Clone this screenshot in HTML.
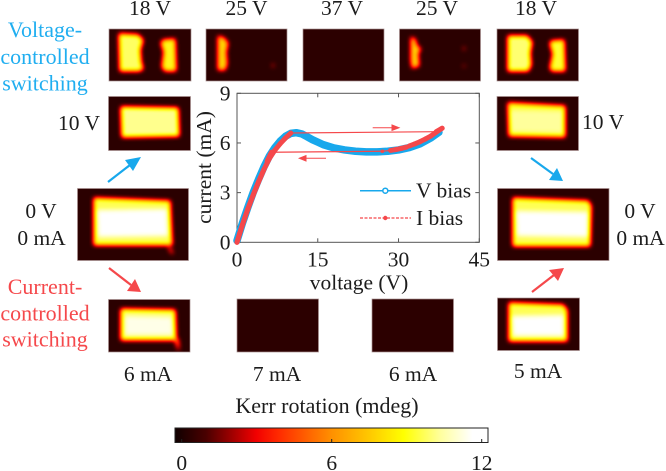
<!DOCTYPE html>
<html lang="en">
<head>
<meta charset="utf-8">
<title>Voltage and current controlled switching</title>
<style>
html,body{margin:0;padding:0;background:#fff;}
svg{display:block;}
text{font-family:"Liberation Serif",serif;fill:#1c1c1c;font-size:21.5px;}
.big{font-size:22px;}
.blue{fill:#20aef0;}
.red{fill:#f5484b;}
.m{text-anchor:middle;}
</style>
</head>
<body>
<svg id="fig" width="666" height="471" viewBox="0 0 666 471" xmlns="http://www.w3.org/2000/svg">
<defs>
<filter id="hot" x="0" y="0" width="1" height="1" filterUnits="objectBoundingBox" color-interpolation-filters="sRGB">
<feGaussianBlur stdDeviation="2.4"/>
<feComponentTransfer>
<feFuncR type="table" tableValues="0.17 0.62 1 1 1 1 1 1 1"/>
<feFuncG type="table" tableValues="0 0 0.08 0.38 0.62 0.85 1 1 1"/>
<feFuncB type="table" tableValues="0 0 0 0 0 0 0.15 0.6 1"/>
<feFuncA type="discrete" tableValues="1"/>
</feComponentTransfer>
</filter>
<linearGradient id="hotbar" x1="0" x2="1" y1="0" y2="0">
<stop offset="0" stop-color="#100000"/>
<stop offset="0.1" stop-color="#4a0000"/>
<stop offset="0.26" stop-color="#f20000"/>
<stop offset="0.33" stop-color="#ff2a00"/>
<stop offset="0.5" stop-color="#ff9000"/>
<stop offset="0.62" stop-color="#ffc800"/>
<stop offset="0.73" stop-color="#ffff00"/>
<stop offset="0.85" stop-color="#ffffa0"/>
<stop offset="0.95" stop-color="#ffffff"/>
<stop offset="1" stop-color="#ffffff"/>
</linearGradient>
</defs>
<rect width="666" height="471" fill="#fff"/>

<!-- Kerr images -->
<g>
<g filter="url(#hot)"><rect x="109" y="29" width="82" height="52" fill="#000"/>
<path d="M119 34 L138 35 L143 40 L140 50 L141 62 L143 69 L139 71 L120 71 Z" fill="#d0d0d0"/>
<path d="M163 40 L175 39 L176 71 L165 71 L162 67 L164 52 L161 43 Z" fill="#b8b8b8"/></g>
<rect x="109" y="29" width="82" height="52" fill="none" stroke="#a89090" stroke-width="0.7"/></g>
<g>
<g filter="url(#hot)"><rect x="206" y="29" width="81" height="52" fill="#000"/>
<path d="M218 36 L224 38 L228 43 L226 52 L227 64 L225 70 L218 70 Z" fill="#a0a0a0"/>
<rect x="272" y="64" width="2" height="3" fill="#404040"/></g>
<rect x="206" y="29" width="81" height="52" fill="none" stroke="#a89090" stroke-width="0.7"/></g>
<g>
<rect x="303" y="29" width="81" height="52" fill="#2c0000" stroke="#a89090" stroke-width="0.7"/></g>
<g>
<g filter="url(#hot)"><rect x="399.500" y="29" width="81" height="52" fill="#000"/>
<path d="M411 37 L415 39 L417 46 L421 49 L418 53 L419 66 L412 68 L411 60 Z" fill="#a0a0a0"/>
<rect x="463" y="47" width="2" height="3" fill="#404040"/><rect x="463" y="65" width="2" height="2" fill="#404040"/></g>
<rect x="399.500" y="29" width="81" height="52" fill="none" stroke="#a89090" stroke-width="0.7"/></g>
<g>
<g filter="url(#hot)"><rect x="497" y="29" width="81.500" height="52" fill="#000"/>
<path d="M508 36 L527 36 L532 42 L530 53 L531 65 L528 71 L508 71 Z" fill="#d4d4d4"/>
<path d="M551 41 L564 40 L565 71 L552 71 L550 68 L553 54 L550 44 Z" fill="#c4c4c4"/></g>
<rect x="497" y="29" width="81.500" height="52" fill="none" stroke="#a89090" stroke-width="0.7"/></g>
<g>
<g filter="url(#hot)"><rect x="108.500" y="96.500" width="82" height="54" fill="#000"/>
<path d="M121 107 L178 108 L179 136 L122 137 Z" fill="#dcdcdc"/></g>
<rect x="108.500" y="96.500" width="82" height="54" fill="none" stroke="#a89090" stroke-width="0.7"/></g>
<g>
<g filter="url(#hot)"><rect x="497" y="96.500" width="81.500" height="54" fill="#000"/>
<path d="M508 103 L565 106 L565 137 L509 136 Z" fill="#c4c4c4"/>
<path d="M510 110 L563 111 L563 133 L511 132 Z" fill="#e0e0e0"/></g>
<rect x="497" y="96.500" width="81.500" height="54" fill="none" stroke="#a89090" stroke-width="0.7"/></g>
<g>
<g filter="url(#hot)"><rect x="77.500" y="188.500" width="111" height="72" fill="#000"/>
<path d="M94 198 L170 201 L172 245 L94 245 Z" fill="#cccccc"/>
<path d="M97 210 L167 209 L168 236 L98 237 Z" fill="#ffffff"/>
<path d="M168 247 L170 247 L173 253 L172 254 Z" fill="#909090"/></g>
<rect x="77.500" y="188.500" width="111" height="72" fill="none" stroke="#a89090" stroke-width="0.7"/></g>
<g>
<g filter="url(#hot)"><rect x="497.500" y="188.500" width="111.500" height="72" fill="#000"/>
<path d="M513 198 L588 201 L591 206 L590 246 L513 246 Z" fill="#cccccc"/>
<path d="M516 211 L588 212 L588 237 L517 236 Z" fill="#ffffff"/></g>
<rect x="497.500" y="188.500" width="111.500" height="72" fill="none" stroke="#a89090" stroke-width="0.7"/></g>
<g>
<g filter="url(#hot)"><rect x="108.500" y="299.500" width="81.500" height="52.500" fill="#000"/>
<path d="M121 309 L175 310 L176 340 L121 340 Z" fill="#d0d0d0"/>
<path d="M125 316 L172 317 L173 335 L125 335 Z" fill="#f8f8f8"/>
<path d="M175 339 L178 339 L179 349 L178 349 Z" fill="#b0b0b0"/></g>
<rect x="108.500" y="299.500" width="81.500" height="52.500" fill="none" stroke="#a89090" stroke-width="0.7"/></g>
<g>
<rect x="237" y="299" width="81.500" height="53" fill="#2c0000" stroke="#a89090" stroke-width="0.7"/></g>
<g>
<rect x="372" y="299" width="81.500" height="53" fill="#2c0000" stroke="#a89090" stroke-width="0.7"/></g>
<g>
<g filter="url(#hot)"><rect x="497.500" y="298" width="82" height="52.500" fill="#000"/>
<path d="M509 303 L563 305 L567 310 L567 341 L509 341 Z" fill="#cccccc"/>
<path d="M512 316 L564 315 L564 336 L513 336 Z" fill="#ffffff"/></g>
<rect x="497.500" y="298" width="82" height="52.500" fill="none" stroke="#a89090" stroke-width="0.7"/></g>

<!-- Image labels -->
<text class="m" x="150" y="15">18 V</text>
<text class="m" x="246.500" y="15">25 V</text>
<text class="m" x="342" y="15">37 V</text>
<text class="m" x="437" y="15">25 V</text>
<text class="m" x="536" y="15">18 V</text>
<text class="m" x="79" y="130">10 V</text>
<text class="m" x="603" y="129">10 V</text>
<text class="m" x="41" y="218">0 V</text>
<text class="m" x="41.500" y="245">0 mA</text>
<text class="m" x="640" y="218">0 V</text>
<text class="m" x="640.500" y="245">0 mA</text>
<text class="m" x="148" y="381">6 mA</text>
<text class="m" x="277" y="381">7 mA</text>
<text class="m" x="413" y="381">6 mA</text>
<text class="m" x="538" y="378">5 mA</text>

<g>
<text class="big blue m" x="45" y="37">Voltage-</text>
<text class="big blue m" x="45" y="64">controlled</text>
<text class="big blue m" x="45" y="90.500">switching</text>
</g>
<g>
<text class="big red m" x="45" y="294">Current-</text>
<text class="big red m" x="45" y="320.500">controlled</text>
<text class="big red m" x="45" y="346.500">switching</text>
</g>

<!-- Flow arrows -->
<g><line x1="108" y1="182" x2="130" y2="165" stroke="#18a8ec" stroke-width="2.200"/><polygon points="141,157 133,171 125,160" fill="#18a8ec"/></g>
<g><line x1="531" y1="158" x2="553" y2="174" stroke="#18a8ec" stroke-width="2.200"/><polygon points="563,181 549,180 557,168" fill="#18a8ec"/></g>
<g><line x1="109" y1="268" x2="131" y2="285" stroke="#f5484b" stroke-width="2.200"/><polygon points="141,292 127,291 135,279" fill="#f5484b"/></g>
<g><line x1="532" y1="292" x2="554" y2="275" stroke="#f5484b" stroke-width="2.200"/><polygon points="564,268 558,281 549,270" fill="#f5484b"/></g>

<!-- Colorbar -->
<g>
<rect x="175" y="428" width="313" height="14.500" fill="url(#hotbar)" stroke="#222" stroke-width="1"/>
</g>
<text class="m" x="327" y="413" style="font-size:22px">Kerr rotation (mdeg)</text>
<g id="colorbar-axis"></g>

<g id="chart"></g>
</svg>

<script>
var xTicks = [0, 15, 30, 45];
var yTicks = [0, 3, 6, 9];
var colorTicks = [0, 6, 12];
var vBiasVoltage = [0, 1, 2, 3, 4, 5, 6, 7, 8, 9, 10, 11, 12, 13, 14, 15, 16, 18, 20, 22, 24, 26, 28, 30, 32, 34, 36, 37.5];
var vBiasCurrent = [0.1, 1.15, 2.1, 3.0, 3.8, 4.55, 5.2, 5.7, 6.1, 6.4, 6.58, 6.62, 6.55, 6.38, 6.2, 6.05, 5.9, 5.7, 5.58, 5.5, 5.46, 5.46, 5.5, 5.58, 5.72, 5.95, 6.3, 6.65];
var iBiasVoltage = [0, 0.5, 1, 2, 3, 4, 5, 6, 7, 8, 9, 10, 37, 38.1, 37, 36, 35, 34, 33, 32, 31.5, 30.5, 29.5, 28.5, 27, 6.4, 5.6, 5, 4, 3, 2, 1, 0];
var iBiasCurrent = [0, 0.55, 1.05, 2.0, 2.85, 3.65, 4.4, 5.05, 5.55, 5.95, 6.3, 6.6, 6.68, 6.89, 6.65, 6.42, 6.24, 6.08, 5.94, 5.82, 5.75, 5.67, 5.6, 5.55, 5.5, 5.44, 4.9, 4.4, 3.65, 2.85, 2.0, 1.05, 0];

var NS = 'http://www.w3.org/2000/svg';
var chart = document.getElementById('chart');
var cbAxis = document.getElementById('colorbar-axis');
var L = 237, R = 479.3, T = 93.3, B = 242.3;
function sx(v) { return L + (v / 45) * (R - L); }
function sy(v) { return B - (v / 9) * (B - T); }
function cx(v) { return 181.7 + (v / 12) * 300; }
function mk(parent, tag, attrs) {
  var el = document.createElementNS(NS, tag);
  for (var k in attrs) el.setAttribute(k, attrs[k]);
  parent.appendChild(el);
  return el;
}

var frame = mk(chart, 'rect', {x: L, y: T, width: R - L, height: B - T, fill: 'none', stroke: '#555', 'stroke-width': 1});



xTicks.forEach(function (t) {
  var a = mk(chart, 'line', {x1: sx(t), x2: sx(t), y1: B, y2: B - 4, stroke: '#555', 'stroke-width': 1});
  
  
  var b = mk(chart, 'line', {x1: sx(t), x2: sx(t), y1: T, y2: T + 4, stroke: '#555', 'stroke-width': 1});
  
  
  var l = mk(chart, 'text', {x: sx(t), y: 266.700, 'text-anchor': 'middle'});
  l.textContent = t;
  
  
});
yTicks.forEach(function (t) {
  var a = mk(chart, 'line', {x1: L, x2: L + 4, y1: sy(t), y2: sy(t), stroke: '#555', 'stroke-width': 1});
  
  
  var b = mk(chart, 'line', {x1: R, x2: R - 4, y1: sy(t), y2: sy(t), stroke: '#555', 'stroke-width': 1});
  
  
  var l = mk(chart, 'text', {x: 230.500, y: sy(t) + 7, 'text-anchor': 'end'});
  l.textContent = t;
  
  
});

var xTitle = mk(chart, 'text', {x: 359, y: 289.500, 'text-anchor': 'middle'});
xTitle.textContent = 'voltage (V)';


var yTitle = mk(chart, 'text', {transform: 'translate(211,167.500) rotate(-90)', 'text-anchor': 'middle'});
yTitle.textContent = 'current (mA)';



var d = vBiasVoltage.map(function (v, i) {
  return (i ? 'L' : 'M') + sx(v).toFixed(2) + ' ' + sy(vBiasCurrent[i]).toFixed(2);
}).join(' ');
var vLine = mk(chart, 'path', {d: d, fill: 'none', stroke: '#18a8ec', 'stroke-width': 7.500, 'stroke-linejoin': 'round', 'stroke-linecap': 'round'});



for (var i = 1; i < iBiasVoltage.length; i++) {
  var gap = Math.abs(iBiasVoltage[i] - iBiasVoltage[i - 1]);
  var seg = mk(chart, 'line', {
    x1: sx(iBiasVoltage[i - 1]), y1: sy(iBiasCurrent[i - 1]),
    x2: sx(iBiasVoltage[i]), y2: sy(iBiasCurrent[i]),
    stroke: '#f5484b', 'stroke-width': gap <= 1.15 && gap > 0.6 || i < 3 ? 5 : 1.200, 'stroke-linecap': gap > 1.15 ? 'butt' : 'round'
  });
  
  
}
iBiasVoltage.forEach(function (v, i) {
  var p = mk(chart, 'circle', {cx: sx(v), cy: sy(iBiasCurrent[i]), r: 1.800, fill: '#f5484b'});
  
  
});

var upArrow = mk(chart, 'path', {d: 'M372.700 127.700 H396 M392 125 L399 127.700 L392 130.400 Z', fill: '#f5484b', stroke: '#f5484b', 'stroke-width': 1});


var downArrow = mk(chart, 'path', {d: 'M326 158.300 H302 M306 155.600 L299.300 158.300 L306 161 Z', fill: '#f5484b', stroke: '#f5484b', 'stroke-width': 1});



var legV = mk(chart, 'line', {x1: 360, x2: 411, y1: 190.700, y2: 190.700, stroke: '#18a8ec', 'stroke-width': 1.500});


var legVM = mk(chart, 'circle', {cx: 385.300, cy: 190.700, r: 2.500, fill: '#fff', stroke: '#18a8ec', 'stroke-width': 1.500});


var legVT = mk(chart, 'text', {x: 416, y: 197.700});
legVT.textContent = 'V bias';


var legI = mk(chart, 'line', {x1: 360, x2: 411, y1: 218, y2: 218, stroke: '#f5484b', 'stroke-width': 1.200, 'stroke-dasharray': '3 1.500'});


var legIM = mk(chart, 'circle', {cx: 385.300, cy: 218, r: 2.200, fill: '#f5484b'});


var legIT = mk(chart, 'text', {x: 416, y: 225});
legIT.textContent = 'I bias';



colorTicks.forEach(function (t) {
  var a = mk(cbAxis, 'line', {x1: cx(t), x2: cx(t), y1: 442.500, y2: 439, stroke: '#222', 'stroke-width': 1});
  
  
  var l = mk(cbAxis, 'text', {x: cx(t), y: 470, 'text-anchor': 'middle'});
  l.textContent = t;
  
  
});
</script>
</body>
</html>
